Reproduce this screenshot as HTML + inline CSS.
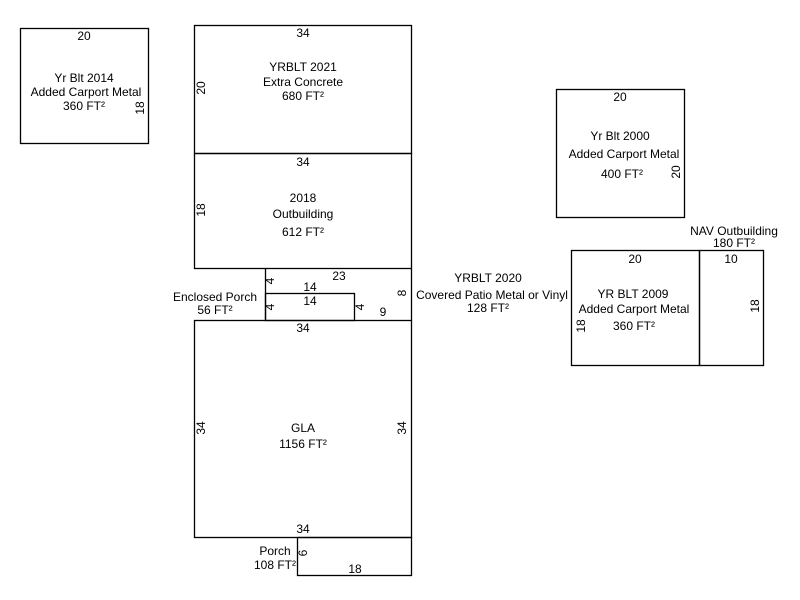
<!DOCTYPE html>
<html><head><style>
html,body{margin:0;padding:0;background:#fff}
svg{display:block}
text{font-family:"Liberation Sans",Arial,sans-serif;font-size:12px;fill:#000}
</style></head><body>
<svg width="800" height="600" viewBox="0 0 800 600" xmlns="http://www.w3.org/2000/svg">
<g fill="none" stroke="#000" stroke-width="1.3">
<rect x="20.5" y="28.5" width="128" height="115"/>
<rect x="194.5" y="25.5" width="217" height="128"/>
<rect x="194.5" y="153.5" width="217" height="115"/>
<polyline points="265.5,268.5 265.5,320.5"/>
<polyline points="411.5,268.5 411.5,320.5"/>
<rect x="265.5" y="293.5" width="89" height="27"/>
<rect x="194.5" y="320.5" width="217" height="217"/>
<rect x="297.5" y="537.5" width="114" height="38"/>
<rect x="556.5" y="89.5" width="128" height="128"/>
<rect x="571.5" y="250.5" width="128" height="115"/>
<rect x="699.5" y="250.5" width="64" height="115"/>
</g>
<g text-anchor="middle">
<text x="84" y="40">20</text>
<text x="84" y="82">Yr Blt 2014</text>
<text x="86" y="96">Added Carport Metal</text>
<text x="84" y="110">360 FT²</text>
<text transform="translate(144,108) rotate(-90)">18</text>

<text x="303" y="37">34</text>
<text x="303" y="71">YRBLT 2021</text>
<text x="303" y="86">Extra Concrete</text>
<text x="303" y="100">680 FT²</text>
<text transform="translate(205,88) rotate(-90)">20</text>

<text x="303" y="166">34</text>
<text x="303" y="202">2018</text>
<text x="303" y="218">Outbuilding</text>
<text x="303" y="236">612 FT²</text>
<text transform="translate(205,210) rotate(-90)">18</text>

<text x="339" y="280">23</text>
<text x="310" y="291">14</text>
<text x="310" y="305">14</text>
<text x="383" y="316">9</text>
<text transform="translate(274,281) rotate(-90)">4</text>
<text transform="translate(274,307) rotate(-90)">4</text>
<text transform="translate(364,307) rotate(-90)">4</text>
<text transform="translate(406,293) rotate(-90)">8</text>
<text x="215" y="301">Enclosed Porch</text>
<text x="215" y="314">56 FT²</text>
<text x="488" y="282">YRBLT 2020</text>
<text x="492" y="299">Covered Patio Metal or Vinyl</text>
<text x="488" y="312">128 FT²</text>

<text x="303" y="332">34</text>
<text x="303" y="432">GLA</text>
<text x="303" y="448">1156 FT²</text>
<text transform="translate(205,428) rotate(-90)">34</text>
<text transform="translate(406,428) rotate(-90)">34</text>
<text x="303" y="533">34</text>

<text x="275" y="555">Porch</text>
<text x="275" y="569">108 FT²</text>
<text transform="translate(307,553) rotate(-90)">6</text>
<text x="355" y="573">18</text>

<text x="620" y="101">20</text>
<text x="620" y="140">Yr Blt 2000</text>
<text x="624" y="158">Added Carport Metal</text>
<text x="622" y="178">400 FT²</text>
<text transform="translate(680,172) rotate(-90)">20</text>

<text x="635" y="263">20</text>
<text x="633" y="298">YR BLT 2009</text>
<text x="634" y="313">Added Carport Metal</text>
<text x="634" y="330">360 FT²</text>
<text transform="translate(585,326) rotate(-90)">18</text>
<text x="731" y="263">10</text>
<text transform="translate(759,306) rotate(-90)">18</text>
<text x="734" y="235">NAV Outbuilding</text>
<text x="734" y="247">180 FT²</text>
</g>
</svg>
</body></html>
